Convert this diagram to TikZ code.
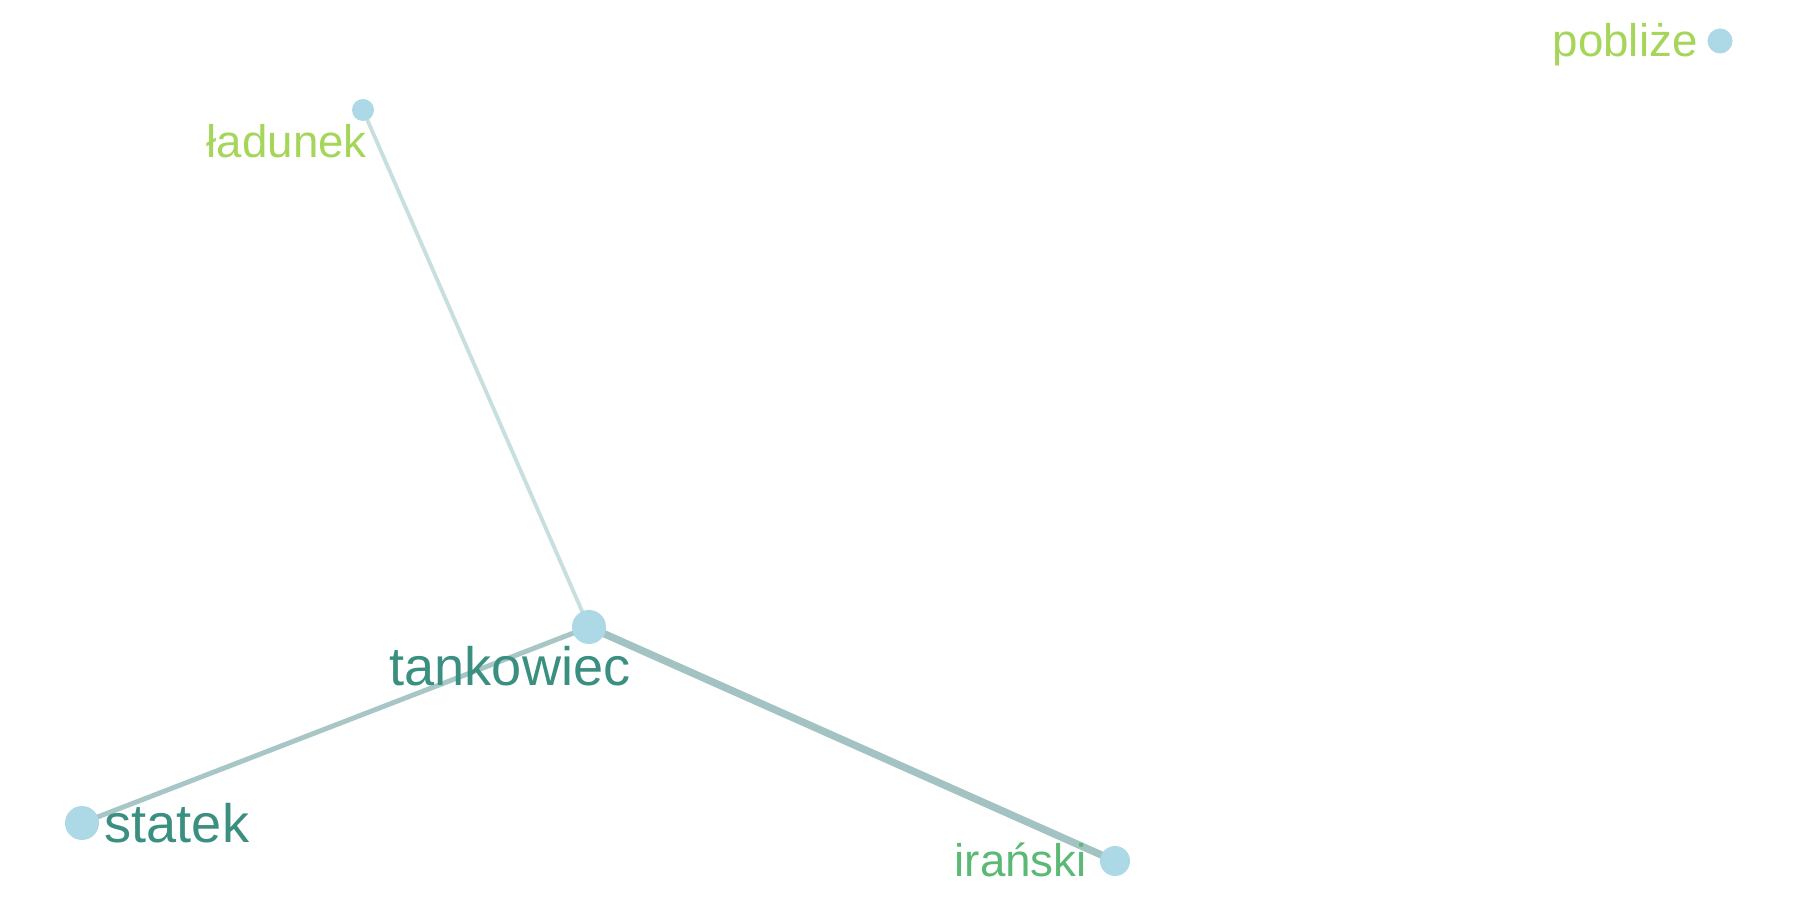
\documentclass[tikz,border=0pt]{standalone}
\usepackage{fontspec}
\setmainfont{Liberation Sans}
\usepackage{tikz}
\usetikzlibrary{backgrounds}
\usetikzlibrary{positioning}

\definecolor{dotblue}{HTML}{ADD8E6}
\definecolor{darkteal}{HTML}{3B8F80}
\definecolor{midgreen}{HTML}{5CB975}
\definecolor{lightgreen}{HTML}{A5D65A}
\definecolor{edgefaint}{HTML}{C8DFDF}
\definecolor{edgemid}{HTML}{A8C6C6}
\definecolor{edgestrong}{HTML}{A3C2C2}

\begin{document}
\begin{tikzpicture}[
    dot/.style={circle, fill=dotblue, inner sep=0pt, minimum size=#1},
    word/.style={anchor=base west, inner sep=0pt},
    bigword/.style={word, font=\fontsize{15.4}{18}\selectfont},
    smallword/.style={word, font=\fontsize{13}{16}\selectfont}]
      \useasboundingbox (0, 0) rectangle (18, 9);

      \node[dot=0.34cm] (tankowiec) at (5.89, 2.73) {};
      \node[dot=0.34cm] (statek) at (0.82, 0.77) {};
      \node[dot=0.30cm] (iranski) at (11.15, 0.39) {};
      \node[dot=0.22cm] (ladunek) at (3.63, 7.90) {};
      \node[dot=0.25cm] (poblize) at (17.20, 8.59) {};

      \node[bigword, text=darkteal] (tankowiecL) at (3.89, 2.14) {tankowiec};
      \node[bigword, text=darkteal] (statekL) at (1.04, 0.57) {statek};
      \node[smallword, text=midgreen] (iranskiL) at (9.54, 0.23) {irański};
      \node[smallword, text=lightgreen] (ladunekL) at (2.06, 7.42) {ładunek};
      \node[smallword, text=lightgreen] (poblizeL) at (15.52, 8.43) {pobliże};

      \begin{pgfonlayer}{background}
        \draw[edgefaint, line width=1.1pt] (tankowiec.center) -- (ladunek.center);
        \draw[edgemid, line width=1.4pt] (tankowiec.center) -- (statek.center);
        \draw[edgestrong, line width=2.1pt] (tankowiec.center) -- (iranski.center);
      \end{pgfonlayer}
    \end{tikzpicture}
\end{document}
